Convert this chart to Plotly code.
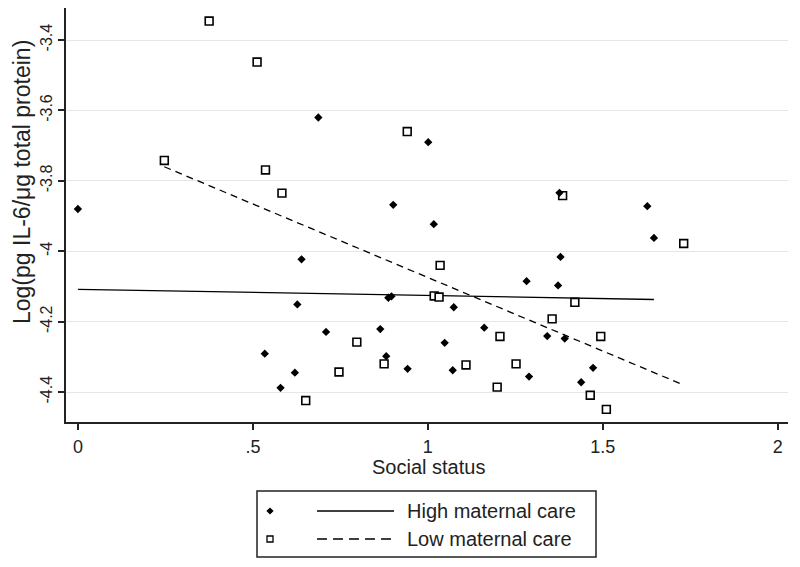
import plotly.graph_objects as go

# ---------------- data ----------------
high_x = [0.000, 0.687, 1.001, 0.901, 1.376, 1.627, 1.646, 1.017, 0.639, 1.379,
          1.282, 1.372, 0.887, 0.896, 0.627, 1.074, 0.709, 0.864, 1.161, 1.341,
          1.391, 1.048, 0.534, 0.881, 0.942, 1.071, 1.289, 0.620, 0.579, 1.472,
          1.438]
high_y = [-3.880, -3.620, -3.690, -3.868, -3.834, -3.872, -3.962, -3.923, -4.023, -4.016,
          -4.085, -4.097, -4.132, -4.128, -4.151, -4.159, -4.229, -4.221, -4.217, -4.241,
          -4.248, -4.260, -4.291, -4.298, -4.334, -4.338, -4.356, -4.345, -4.388, -4.331,
          -4.372]

low_x = [0.375, 0.512, 0.247, 0.536, 0.583, 0.941, 1.385, 1.731, 1.035, 1.420,
         1.018, 1.032, 1.355, 1.206, 1.494, 0.797, 0.875, 1.109, 1.252, 0.746,
         1.198, 0.651, 1.464, 1.510]
low_y = [-3.346, -3.4625, -3.742, -3.769, -3.835, -3.660, -3.842, -3.978, -4.040, -4.145,
         -4.127, -4.130, -4.192, -4.242, -4.242, -4.258, -4.320, -4.323, -4.320, -4.343,
         -4.386, -4.424, -4.409, -4.449]

# fitted-line end points as drawn in the reference
high_fit_x = [0.0, 1.646]
high_fit_y = [-4.108, -4.137]
low_fit_x = [0.247, 1.731]
low_fit_y = [-3.760, -4.380]

x_ticks = [0, 0.5, 1, 1.5, 2]
x_tick_labels = ["0", ".5", "1", "1.5", "2"]
y_ticks = [-3.4, -3.6, -3.8, -4.0, -4.2, -4.4]
y_tick_labels = ["-3.4", "-3.6", "-3.8", "-4", "-4.2", "-4.4"]

series_names = ["High maternal care", "Low maternal care"]
x_title = "Social status"
y_title = "Log(pg IL-6/\u03bcg total protein)"

# ---------------- layout geometry ----------------
# the page body adds an 8px offset; the figure is sized so the page stays 800x567
OFF = 8
FIG_W, FIG_H = 800 - OFF, 567 - OFF
M_L, M_R, M_T, M_B = 66 - OFF, 12, 0, 145
PW = FIG_W - M_L - M_R
PH = FIG_H - M_T - M_B
FONT = "Liberation Sans, Arial, sans-serif"
TXT = "#222222"


def pxx(px):
    """page pixel x -> paper coordinate"""
    return (px - OFF - M_L) / PW


def pyy(py):
    """page pixel y -> paper coordinate"""
    return (FIG_H - M_B - (py - OFF)) / PH


fig = go.Figure()

fig.add_trace(go.Scatter(x=high_fit_x, y=high_fit_y, mode="lines",
                         line=dict(color="black", width=1.3),
                         name=series_names[0], showlegend=False, hoverinfo="skip"))
fig.add_trace(go.Scatter(x=low_fit_x, y=low_fit_y, mode="lines",
                         line=dict(color="black", width=1.3, dash="7px,5px"),
                         name=series_names[1], showlegend=False, hoverinfo="skip"))
fig.add_trace(go.Scatter(x=low_x, y=low_y, mode="markers",
                         marker=dict(symbol="square", size=7.8, color="white",
                                     line=dict(color="black", width=1.6)),
                         name=series_names[1], showlegend=False))
fig.add_trace(go.Scatter(x=high_x, y=high_y, mode="markers",
                         marker=dict(symbol="diamond", size=6.4, color="black",
                                     line=dict(width=0)),
                         name=series_names[0], showlegend=False))

fig.update_layout(
    width=FIG_W, height=FIG_H,
    margin=dict(l=M_L, r=M_R, t=M_T, b=M_B, autoexpand=False),
    paper_bgcolor="white", plot_bgcolor="white",
    font=dict(family=FONT, color=TXT),
    showlegend=False,
    xaxis=dict(range=[-0.034, 2.029], tickvals=x_ticks, ticktext=x_tick_labels,
               showgrid=False, zeroline=False, showline=True, linecolor=TXT,
               linewidth=1.6, ticks="outside", ticklen=6, tickwidth=1.6,
               tickcolor=TXT, tickfont=dict(size=18, family=FONT, color=TXT),
               ticklabelstandoff=2),
    yaxis=dict(range=[-4.485, -3.309], tickvals=y_ticks, ticktext=y_tick_labels,
               showgrid=True, gridcolor="#e6e6e6", gridwidth=1, zeroline=False,
               showline=True, linecolor=TXT, linewidth=1.6, ticks="outside",
               ticklen=6, tickwidth=1.6, tickcolor=TXT, tickangle=-90,
               tickfont=dict(size=16, family=FONT, color=TXT)),
)

annotations = [
    dict(text=x_title, xref="paper", yref="paper", x=pxx(428), y=pyy(467),
         xanchor="center", yanchor="middle", showarrow=False,
         font=dict(size=20, family=FONT, color=TXT)),
    dict(text=y_title, xref="paper", yref="paper", x=pxx(22), y=pyy(182),
         xanchor="center", yanchor="middle", showarrow=False, textangle=-90,
         font=dict(size=23, family=FONT, color=TXT)),
    dict(text=series_names[0], xref="paper", yref="paper", x=pxx(405), y=pyy(511),
         xanchor="left", yanchor="middle", showarrow=False,
         font=dict(size=20, family=FONT, color=TXT)),
    dict(text=series_names[1], xref="paper", yref="paper", x=pxx(405), y=pyy(539),
         xanchor="left", yanchor="middle", showarrow=False,
         font=dict(size=20, family=FONT, color=TXT)),
]

# legend box and keys
d = 3.6
shapes = [
    dict(type="rect", xref="paper", yref="paper", x0=pxx(257), x1=pxx(596),
         y0=pyy(491), y1=pyy(557), line=dict(color=TXT, width=1.5),
         fillcolor="rgba(0,0,0,0)"),
    dict(type="line", xref="paper", yref="paper", x0=pxx(317), x1=pxx(394),
         y0=pyy(511), y1=pyy(511), line=dict(color="black", width=1.3)),
    dict(type="line", xref="paper", yref="paper", x0=pxx(317), x1=pxx(394),
         y0=pyy(539), y1=pyy(539), line=dict(color="black", width=1.3, dash="10px,6px")),
    dict(type="path", xref="paper", yref="paper",
         path="M {a},{b} L {c},{e} L {a},{f} L {g},{e} Z".format(
             a=pxx(270), b=pyy(511 - d), c=pxx(270 + d), e=pyy(511),
             f=pyy(511 + d), g=pxx(270 - d)),
         fillcolor="black", line=dict(width=0)),
    dict(type="rect", xref="paper", yref="paper", x0=pxx(267), x1=pxx(273),
         y0=pyy(536), y1=pyy(542), line=dict(color="black", width=1.3),
         fillcolor="white"),
]

fig.update_layout(annotations=annotations, shapes=shapes)

fig.write_html("out.html")
